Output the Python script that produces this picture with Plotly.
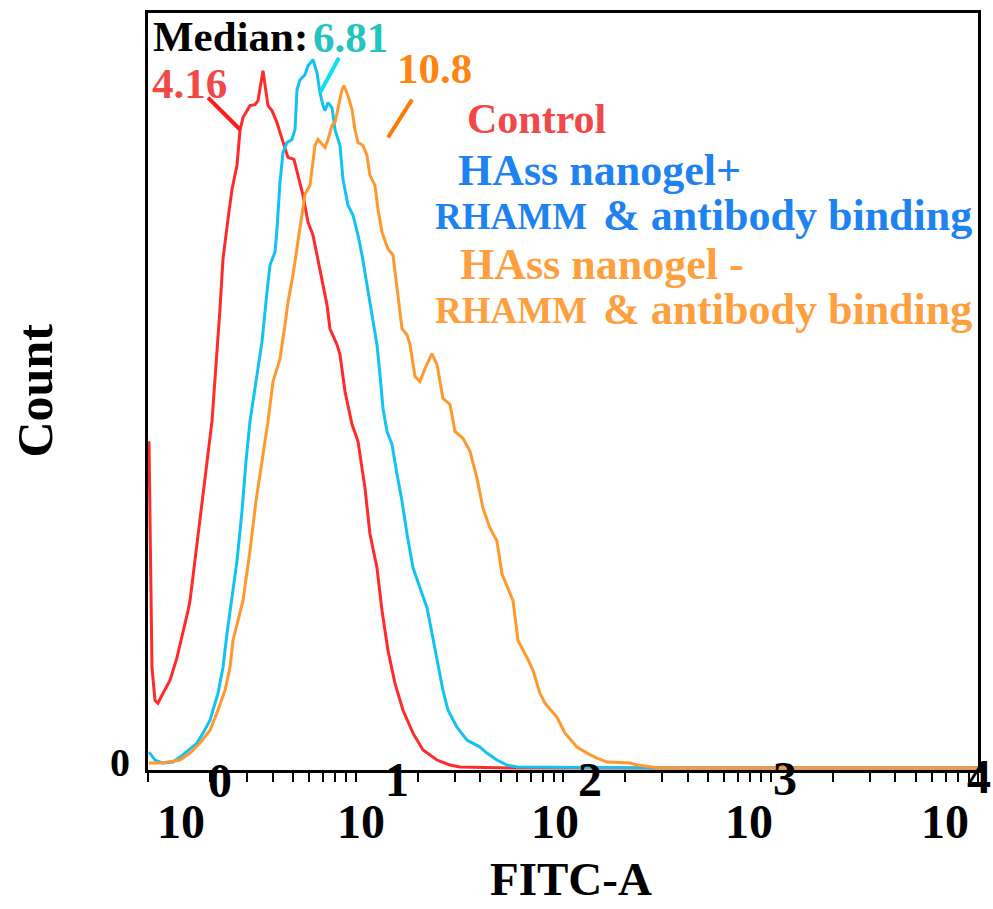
import plotly.graph_objects as go

# ---------------- data (FITC-A intensity vs. event count) ----------------
red_fitc = [1.011, 1.045, 1.081, 1.117, 1.181, 1.276, 1.380, 1.475, 1.559, 1.594, 1.685, 1.781, 1.882, 2.034,
            2.223, 2.298, 2.430, 2.540, 2.685, 2.775, 2.869, 3.101, 3.278, 3.389, 3.582, 3.787, 3.958, 4.184,
            4.326, 4.523, 4.728, 5.053, 5.283, 5.584, 5.903, 6.239, 6.522, 6.894, 7.288, 7.535, 8.143, 8.419,
            8.899, 9.618, 10.28, 11.11, 11.74, 12.69, 13.42, 14.34, 15.50, 16.94, 18.93, 21.15, 24.70, 28.53,
            31.88, 56.77, 10000]
red_count = [328, 101, 68, 65, 75, 88, 111, 135, 158, 168, 208, 248, 293, 348, 461, 511, 551, 581, 605, 640,
             653, 665, 666, 670, 700, 665, 660, 648, 638, 625, 613, 611, 596, 575, 548, 535, 515, 488, 465, 441,
             425, 415, 378, 345, 328, 281, 235, 201, 158, 118, 85, 58, 35, 18, 8, 3, 1, 0, 0]

cyan_fitc = [1.011, 1.081, 1.181, 1.320, 1.426, 1.559, 1.722, 1.841, 1.990, 2.174, 2.298, 2.403, 2.484, 2.540,
             2.685, 2.838, 2.967, 3.101, 3.352, 3.543, 3.745, 3.872, 4.093, 4.184, 4.326, 4.473, 4.676, 4.942,
             5.110, 5.224, 5.401, 5.710, 5.903, 6.239, 6.522, 6.743, 6.972, 7.129, 7.369, 7.704, 7.965, 8.419,
             8.703, 9.200, 9.726, 10.28, 10.75, 11.36, 12.14, 12.69, 13.12, 13.57, 14.18, 14.99, 15.85, 16.75,
             17.71, 18.93, 20.45, 22.11, 23.37, 24.70, 26.40, 27.91, 30.84, 34.45, 39.80, 42.99, 48.05, 53.68,
             60.00, 293.3, 10000]
cyan_count = [16, 8, 5, 6, 11, 18, 25, 35, 48, 75, 101, 135, 158, 168, 208, 258, 308, 348, 395, 428, 478, 505,
              518, 541, 588, 618, 628, 631, 641, 681, 691, 696, 705, 711, 698, 678, 665, 660, 668, 663, 641, 625,
              591, 565, 555, 535, 515, 485, 451, 425, 395, 361, 338, 325, 295, 268, 235, 201, 181, 161, 135, 108,
              78, 58, 41, 28, 21, 15, 8, 3, 1, 0, 0]

orange_fitc = [1.011, 1.181, 1.248, 1.426, 1.594, 1.781, 1.990, 2.174, 2.350, 2.484, 2.568, 2.775, 2.869, 3.101,
               3.315, 3.543, 3.787, 4.003, 4.326, 4.573, 4.728, 4.997, 5.283, 5.522, 5.710, 6.035, 6.170, 6.379,
               6.595, 6.894, 7.129, 7.369, 7.704, 7.965, 8.233, 8.607, 8.801, 9.200, 9.618, 9.944, 10.28, 10.86,
               11.36, 11.74, 12.41, 12.83, 13.42, 14.34, 15.16, 15.85, 16.75, 17.71, 18.31, 19.35, 20.45, 21.62,
               23.37, 24.70, 26.40, 28.53, 30.16, 32.96, 35.62, 38.49, 41.14, 44.45, 48.05, 50.80, 54.29, 57.40,
               60.67, 67.05, 71.66, 77.44, 81.86, 93.54, 102.2, 116.8, 130.5, 145.8, 162.9, 210.3, 227.2, 293.3,
               10000]
orange_count = [5, 5, 6, 8, 15, 25, 38, 58, 78, 101, 128, 155, 168, 218, 268, 308, 348, 388, 411, 445, 468, 495,
                531, 555, 576, 585, 601, 625, 631, 626, 623, 631, 645, 648, 661, 681, 685, 675, 661, 641, 628, 625,
                615, 595, 585, 561, 538, 521, 515, 483, 441, 435, 425, 393, 388, 401, 416, 405, 371, 365, 338, 331,
                318, 291, 261, 241, 228, 195, 181, 168, 128, 111, 98, 75, 65, 51, 35, 21, 15, 10, 6, 5, 3, 0, 0]

medians = ["4.16", "6.81", "10.8"]
legend_lines = ["Control", "HAss nanogel+", "HAss nanogel -"]
decade_exps = ["0", "1", "2", "3", "4"]
x_title = "FITC-A"
y_title = "Count"

# ---------------- layout helpers ----------------
W, H = 993, 909
L, R, T, B = 148, 978, 10, 770


def px(x):
    return (x - L) / (R - L)


def py(y):
    return (B - y) / (B - T)


SERIF = "Liberation Serif"
RED_LINE, CYAN_LINE, ORANGE_LINE = "#FF2A2A", "#12C2F2", "#FF982E"

fig = go.Figure()
fig.add_trace(go.Scatter(x=red_fitc, y=red_count, mode="lines", line=dict(color=RED_LINE, width=3)))
fig.add_trace(go.Scatter(x=cyan_fitc, y=cyan_count, mode="lines", line=dict(color=CYAN_LINE, width=3)))
fig.add_trace(go.Scatter(x=orange_fitc, y=orange_count, mode="lines", line=dict(color=ORANGE_LINE, width=3)))

tick_vals = [m * 10 ** e for e in range(4) for m in range(1, 10)] + [10000]

fig.update_layout(
    width=W, height=H,
    margin=dict(l=L, r=W - R, t=T, b=H - B),
    paper_bgcolor="white", plot_bgcolor="white",
    showlegend=False,
    xaxis=dict(type="log", range=[0, 4], showgrid=False, zeroline=False,
               showline=True, mirror=True, linecolor="black", linewidth=3,
               ticks="outside", ticklen=9, tickwidth=2, tickcolor="black",
               tickvals=tick_vals, showticklabels=False),
    yaxis=dict(range=[-2, 758], showgrid=False, zeroline=False,
               showline=True, mirror=True, linecolor="black", linewidth=3,
               ticks="", showticklabels=False),
)


def ann(text, x, y, size, color="black", angle=0):
    fig.add_annotation(text="<b>" + text + "</b>", x=px(x), y=py(y), xref="paper", yref="paper",
                       xanchor="center", yanchor="middle", showarrow=False, textangle=angle,
                       font=dict(family=SERIF, size=size, color=color))


# median labels
ann("Median:", 230, 34, 43)
ann(medians[1], 350, 35, 43, "#22C4BE")
ann(medians[0], 189, 81, 43, "#F24848")
ann(medians[2], 434, 66, 43, "#FF8410")

# legend-like texts
ann(legend_lines[0], 536, 116, 42, "#F24848")
ann(legend_lines[1], 599, 168, 44, "#1E82F0")
ann("RHAMM", 511, 214, 37, "#1E82F0")
ann("&amp; antibody binding", 787, 213, 44, "#1E82F0")
ann(legend_lines[2], 602, 262, 44, "#FFA040")
ann("RHAMM", 511, 309, 37, "#FFA040")
ann("&amp; antibody binding", 787, 308, 44, "#FFA040")

# pointer lines
for (x0, y0, x1, y1, c) in [(208, 95, 240, 127, "#FF1A1A"),
                            (339, 55, 320, 90, "#10E0EE"),
                            (412, 97, 388, 135, "#FF7A00")]:
    fig.add_shape(type="line", xref="paper", yref="paper", x0=px(x0), y0=py(y0), x1=px(x1), y1=py(y1),
                  line=dict(color=c, width=4))

# x tick labels (10 with offset exponent)
for cx, ex, ey, e in zip([181, 361, 555, 749, 945], [220, 397, 590, 785, 979],
                         [781, 780, 780, 779, 777], decade_exps):
    ann("10", cx, 822, 48)
    ann(e, ex, ey, 48)

# y zero label
ann("0", 120, 762, 40)

# axis titles
ann(x_title, 571, 879, 47)
ann(y_title, 35, 389, 50, angle=-90)

fig.write_html("out.html")
